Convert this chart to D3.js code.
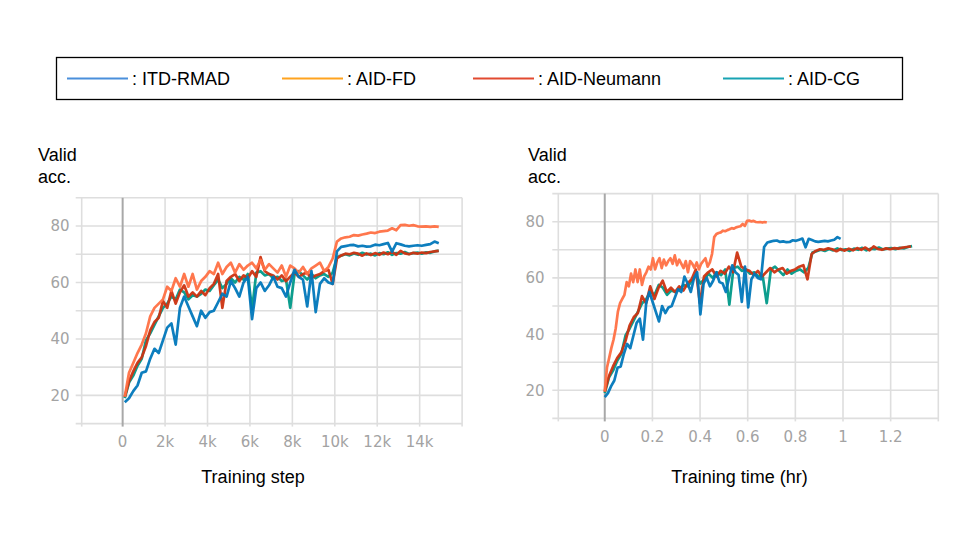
<!DOCTYPE html>
<html>
<head>
<meta charset="utf-8">
<script src="https://cdn.jsdelivr.net/npm/d3@7"></script>
<style>
  body { margin: 0; background: #fff; }
  svg { display: block; }
</style>
</head>
<body>
<svg id="chart" width="960" height="540"></svg>
<script>
// ---- data ----
var methods = ["ITD-RMAD", "AID-FD", "AID-Neumann", "AID-CG"];
var legendColors = ["#4a8fdb", "#ffa31f", "#e24a30", "#18a3b3"];
var lineColors = ["#0077bb", "#ff7043", "#cc3311", "#009988"];

var steps = [100, 300, 500, 700, 900, 1100, 1300, 1500, 1700, 1900,
             2100, 2300, 2500, 2700, 2900, 3100, 3300, 3500, 3700, 3900,
             4100, 4300, 4500, 4700, 4900, 5100, 5300, 5500, 5700, 5900,
             6100, 6300, 6500, 6700, 6900, 7100, 7300, 7500, 7700, 7900,
             8100, 8300, 8500, 8700, 8900, 9100, 9300, 9500, 9700, 9900,
             10100, 10300, 10500, 10700, 10900, 11100, 11300, 11500, 11700, 11900,
             12100, 12300, 12500, 12700, 12900, 13100, 13300, 13500, 13700, 13900,
             14100, 14300, 14500, 14700, 14900];

var itdRmad = [17.6, 19.0, 21.5, 23.5, 28.0, 28.5, 33.0, 36.5, 35.0, 39.5,
               44.0, 45.5, 38.0, 51.0, 55.0, 51.5, 48.0, 44.5, 50.0, 47.5,
               49.5, 50.0, 53.0, 56.0, 55.0, 60.5, 58.0, 55.0, 60.0, 62.0,
               47.0, 58.0, 60.0, 57.0, 59.0, 62.0, 58.5, 58.0, 55.0, 60.0,
               64.5, 62.0, 61.0, 51.5, 64.0, 49.5, 59.5, 61.5, 60.0, 59.5,
               71.0, 72.6, 72.9, 73.2, 73.3, 72.8, 73.0, 72.7, 72.8, 73.4,
               73.2, 73.6, 74.0, 70.9, 73.9, 73.5, 73.0, 72.8, 73.0, 73.2,
               73.0, 73.3, 73.6, 74.5, 73.9];

var aidFd = [19.5, 28.0, 31.5, 35.0, 38.0, 42.0, 48.0, 51.0, 52.5, 54.0,
             58.5, 57.0, 61.5, 58.5, 63.0, 58.5, 63.0, 57.5, 60.5, 62.0,
             64.0, 63.0, 67.0, 63.0, 65.5, 67.0, 63.5, 66.5, 64.5, 66.0,
             67.0, 65.0, 68.0, 64.5, 66.5, 65.0, 63.5, 66.0, 62.0, 66.0,
             65.0, 63.5, 65.5, 63.0, 65.0, 66.0, 67.0, 64.0, 65.5, 68.5,
             74.5, 75.6, 76.0, 76.2, 76.8, 76.6, 77.0, 77.3, 77.7, 77.5,
             78.0, 78.2, 78.4, 79.2, 78.5, 80.3, 80.4, 80.1, 80.3, 79.9,
             79.8, 79.9, 79.7, 79.9, 79.7];

var aidNeumann = [19.5, 25.0, 28.5, 31.5, 33.5, 37.5, 43.0, 46.0, 47.5, 53.5,
                  51.0, 57.0, 52.5, 56.5, 59.0, 55.0, 56.5, 55.0, 57.0, 55.5,
                  58.0, 59.5, 63.0, 51.0, 60.5, 62.0, 63.0, 60.5, 62.5, 61.5,
                  64.0, 62.0, 69.0, 64.0, 63.0, 62.5, 61.0, 62.5, 60.5, 62.0,
                  63.5, 62.0, 63.0, 63.5, 61.5, 62.5, 63.0, 64.0, 64.5, 59.5,
                  68.5, 69.6, 70.2, 70.0, 70.5, 70.2, 69.5, 70.3, 69.7, 70.4,
                  69.8, 70.6, 70.0, 70.8, 69.8, 71.2, 70.3, 70.0, 70.5, 70.2,
                  70.6, 70.4, 70.8, 71.0, 71.2];

var aidCg = [19.0, 24.5, 27.0, 30.5, 33.0, 39.5, 42.0, 45.0, 48.0, 51.0,
             52.5, 55.0, 54.0, 57.5, 56.5, 54.0, 55.5, 55.0, 56.0, 57.5,
             57.0, 59.0, 61.0, 58.0, 59.5, 61.5, 60.0, 62.0, 61.0, 63.0,
             50.5, 63.5, 64.0, 62.5, 63.0, 61.5, 62.0, 60.5, 61.0, 51.0,
             63.0, 64.0, 62.5, 61.0, 63.0, 61.5, 62.5, 63.0, 62.0, 63.5,
             69.0, 69.5, 70.0, 69.6, 70.3, 69.8, 70.5, 69.9, 70.2, 69.6,
             70.4, 70.0, 70.7, 69.8, 70.4, 70.2, 70.8, 70.1, 70.4, 70.6,
             70.2, 70.7, 70.5, 71.0, 71.3];

// wall-clock hours at the last logged step, per method
var hoursAtEnd = [0.99, 0.68, 1.285, 1.29];

var accTicks = [20, 40, 60, 80];
var accGrid = [10, 20, 30, 40, 50, 60, 70, 80, 90];
var stepTicks = [0, 2000, 4000, 6000, 8000, 10000, 12000, 14000];
var stepGrid = [0, 2000, 4000, 6000, 8000, 10000, 12000, 14000, 16000];
var hourTicks = [0, 0.2, 0.4, 0.6, 0.8, 1, 1.2];
var hourGrid = [0, 0.2, 0.4, 0.6, 0.8, 1, 1.2, 1.4];

var accSeries = [itdRmad, aidFd, aidNeumann, aidCg];
var drawOrder = [3, 2, 1, 0];

var svg = d3.select("#chart");

// ---- legend ----
var legend = svg.append("g");
legend.append("rect")
    .attr("x", 56.5).attr("y", 57.5)
    .attr("width", 846).attr("height", 42)
    .attr("fill", "none").attr("stroke", "#000").attr("stroke-width", 1.3);

var legendX = [67, 282, 473, 723];
methods.forEach(function (name, i) {
    legend.append("line")
        .attr("x1", legendX[i]).attr("x2", legendX[i] + 61)
        .attr("y1", 78.5).attr("y2", 78.5)
        .attr("stroke", legendColors[i]).attr("stroke-width", 2.2);
    legend.append("text")
        .attr("x", legendX[i] + 65).attr("y", 84.5)
        .attr("font-family", "Liberation Sans, Arial, sans-serif")
        .attr("font-size", 18)
        .attr("fill", "#000")
        .text(": " + name);
});

// ---- panels ----
function drawPanel(cfg) {
    var g = svg.append("g");
    var x = d3.scaleLinear().domain(cfg.xDomain).range([cfg.left, cfg.right]);
    var y = d3.scaleLinear().domain([10, 90]).range([cfg.bottom, cfg.top]);

    // grid
    g.selectAll(".hgrid").data(accGrid).enter().append("line")
        .attr("x1", cfg.left - 6).attr("x2", cfg.right)
        .attr("y1", function (d) { return y(d); })
        .attr("y2", function (d) { return y(d); })
        .attr("stroke", "#dedede").attr("stroke-width", 1.6);

    var vLines = [cfg.xDomain[0]].concat(cfg.xGrid);
    g.selectAll(".vgrid").data(vLines).enter().append("line")
        .attr("x1", function (d) { return x(d); })
        .attr("x2", function (d) { return x(d); })
        .attr("y1", cfg.top).attr("y2", cfg.bottom + 3)
        .attr("stroke", function (d) { return d === 0 ? "#a8a8a8" : "#dedede"; })
        .attr("stroke-width", function (d) { return d === 0 ? 2 : 1.6; });

    // tick labels
    g.selectAll(".ylab").data(accTicks).enter().append("text")
        .attr("x", cfg.yLabelX)
        .attr("y", function (d) { return y(d) + 5.4; })
        .attr("text-anchor", "end")
        .attr("font-family", "DejaVu Sans, sans-serif")
        .attr("font-size", 15)
        .attr("fill", "#a3a3a3")
        .text(function (d) { return d; });

    g.selectAll(".xlab").data(cfg.xTicks).enter().append("text")
        .attr("x", function (d) { return x(d); })
        .attr("y", cfg.xLabelY)
        .attr("text-anchor", "middle")
        .attr("font-family", "DejaVu Sans, sans-serif")
        .attr("font-size", 15)
        .attr("fill", "#a3a3a3")
        .text(cfg.xFormat);

    // lines
    var line = d3.line()
        .x(function (d) { return x(d[0]); })
        .y(function (d) { return y(d[1]); });

    drawOrder.forEach(function (k) {
        var toX = cfg.xOf(k);
        var pts = steps.map(function (s, i) { return [toX(s), accSeries[k][i]]; });
        g.append("path")
            .datum(pts)
            .attr("d", line)
            .attr("fill", "none")
            .attr("stroke", lineColors[k])
            .attr("stroke-width", 2.7)
            .attr("stroke-linejoin", "round")
            .attr("stroke-opacity", 0.95);
    });

    // titles
    var font = "Liberation Sans, Arial, sans-serif";
    g.append("text").attr("x", cfg.titleX).attr("y", 160.7)
        .attr("font-family", font).attr("font-size", 18).text("Valid");
    g.append("text").attr("x", cfg.titleX).attr("y", 182.7)
        .attr("font-family", font).attr("font-size", 18).text("acc.");
    g.append("text").attr("x", cfg.xTitleX).attr("y", 482.7)
        .attr("text-anchor", "middle")
        .attr("font-family", font).attr("font-size", 18).text(cfg.xTitle);
}

drawPanel({
    left: 81.7, right: 462.1, top: 197.8, bottom: 423.6,
    xDomain: [-1930, 16000],
    xGrid: stepGrid, xTicks: stepTicks,
    xFormat: function (d) { return d === 0 ? "0" : (d / 1000) + "k"; },
    xOf: function () { return function (s) { return s; }; },
    yLabelX: 69.5, xLabelY: 447,
    titleX: 38, xTitleX: 253, xTitle: "Training step"
});

drawPanel({
    left: 558.3, right: 938.3, top: 193.6, bottom: 418.4,
    xDomain: [-0.195, 1.4],
    xGrid: hourGrid, xTicks: hourTicks,
    xFormat: function (d) { return String(d); },
    xOf: function (k) {
        return d3.scaleLinear()
            .domain([steps[0], steps[steps.length - 1]])
            .range([0, hoursAtEnd[k]]);
    },
    yLabelX: 544.5, xLabelY: 442,
    titleX: 528, xTitleX: 739.5, xTitle: "Training time (hr)"
});
</script>
</body>
</html>
